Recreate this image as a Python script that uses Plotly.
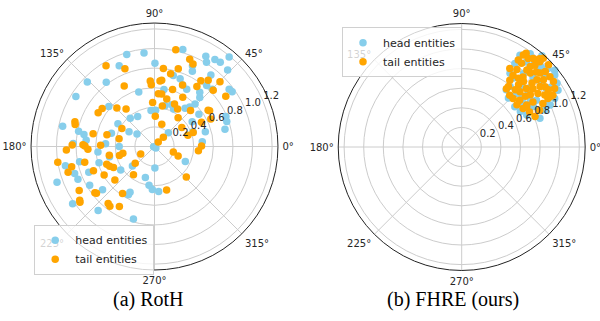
import plotly.graph_objects as go

# ---------------- data ----------------
series_names = ["head entities", "tail entities"]
captions = ["(a) RotH", "(b) FHRE (ours)"]
angle_ticks = [0, 45, 90, 135, 180, 225, 270, 315]
angle_labels = ["0°", "45°", "90°", "135°", "180°", "225°", "270°", "315°"]
radial_ticks = [0.2, 0.4, 0.6, 0.8, 1.0, 1.2]
radial_labels = ["0.2", "0.4", "0.6", "0.8", "1.0", "1.2"]
radial_label_angle = 22.5

roth_head_r = [0.01, 0.20, 0.42, 0.54, 0.79, 0.78, 0.74, 0.49, 0.37, 0.43, 0.46, 0.43, 0.50, 0.54, 0.60,
               0.59, 0.85, 0.75, 0.74, 0.69, 1.03, 0.91, 0.86, 1.06, 1.01, 1.08, 1.09, 1.19, 1.08, 0.93,
               0.83, 0.97, 0.68, 0.82, 0.72, 0.67, 0.96, 0.46, 0.56,
               0.98, 0.96, 0.90, 0.95, 0.82, 0.58, 0.95, 0.62, 0.37, 0.38, 0.35, 0.96, 0.44, 0.30, 0.22,
               0.79, 0.73, 0.70, 0.46, 0.50, 0.83, 0.36,
               0.77, 0.87, 0.53, 0.56, 0.69, 1.02, 1.06, 0.93, 0.86, 0.85, 0.78, 0.72, 0.77, 0.42, 0.47,
               0.58, 0.30, 0.44, 0.33, 0.59, 0.40,
               0.22, 0.35, 0.46, 0.02]
roth_head_theta = [200, 45, 20.9, 16.2, 22.7, 19, 13.7, 5.7, 88.2, 75.5, 67.5, 63.1, 51.4, 48.3, 46.4,
                   80.6, 89.7, 75.2, 69.3, 65.4, 73.7, 64.8, 63.3, 60.4, 58.3, 55.2, 52, 50.2, 46.3, 51.8,
                   44.7, 35.2, 47.2, 49.5, 50.1, 60.6, 37.5, 33.3, 36,
                   106.8, 96.4, 113.6, 136.2, 126.9, 106.1, 147.6, 138.8, 95.5, 130.7, 119.4, 167.5, 148, 150, 144.3,
                   168.6, 170.4, 174.8, 162.8, 176.7, 177.8, 180,
                   253.8, 228.6, 241.9, 241.6, 219.8, 215, 200.2, 192.2, 198.6, 203.2, 191.5, 201.3, 210.8, 214.8, 192.7,
                   185.6, 221.3, 267.1, 253.6, 196.3, 262,
                   271, 334, 275.3, 315]

roth_tail_r = [0.13, 0.06, 0.24, 0.34, 0.36, 0.54, 0.66, 0.48, 0.31, 0.42, 0.45, 0.38, 0.52, 0.58, 0.50,
               0.54, 0.54, 0.61, 0.67, 0.68, 0.80, 0.76, 0.83, 0.75, 1.01, 0.96, 0.93, 0.82, 0.87, 0.94,
               0.89, 0.67, 0.64, 0.42, 0.69, 0.83, 0.48,
               0.96, 0.85, 0.69, 0.67, 0.63, 0.45, 0.66, 0.55, 0.48, 0.67, 0.85, 0.84, 0.38, 0.64, 0.50,
               0.37, 0.55, 0.84, 0.73, 0.71,
               0.75, 0.76, 0.71, 0.58, 0.77, 0.76, 0.94, 0.95, 0.89, 1.00, 0.92, 0.87, 0.73, 0.67, 0.59,
               0.52, 0.50, 0.53, 0.37, 0.33, 0.26, 0.36, 0.16, 0.90, 0.47, 0.68, 0.47,
               0.20, 0.26, 0.45, 0.45, 0.46]
roth_tail_theta = [46, 50, 72, 35, 18.8, 27.4, 34, 0.5, 88.5, 79, 58.4, 50.7, 45, 60.2, 75.5,
                   85.8, 82.2, 72.4, 85.2, 83.8, 83.5, 77.5, 73, 54.8, 77.6, 68, 65, 54.8, 51, 44.7,
                   35.2, 32.9, 26.1, 20, 65.5, 43.8, 64.8,
                   121, 110.8, 116.6, 93.7, 93, 92.4, 144, 134.3, 127.2, 149.1, 162.8, 164.5, 151.2, 168.2, 166.1,
                   167.7, 178.8, 179, 178.5, 179.5,
                   230.9, 233.2, 239.7, 235.8, 217.8, 218.8, 215.7, 216.8, 210.3, 189.3, 196.6, 193.7, 192.7, 201.6, 209.4,
                   200.4, 203.7, 220.3, 194.5, 192, 220.8, 233.4, 208.5, 182.3, 207.2, 182.4, 191,
                   343.7, 338, 354.5, 316.2, 285.6]

fhre_head_r = [1.18, 1.24, 1.11, 1.19, 1.20, 1.17, 1.14, 1.07, 1.00, 0.93,
               0.85, 0.79, 0.74, 0.69, 0.68, 0.70, 0.74, 0.88, 1.02, 0.90,
               1.01, 0.84, 0.90, 1.04, 0.88, 1.02, 0.87, 1.10, 1.11, 1.09,
               1.12, 0.85, 0.78, 0.77, 1.23, 0.81, 0.95, 1.15, 0.98, 0.92,
               0.80, 1.05, 1.13]
fhre_head_theta = [53.7, 48.7, 57.6, 42.3, 37.7, 33.8, 30.5, 27.6, 25.4, 24,
                   20.1, 51.3, 52.1, 46.3, 37.1, 31.2, 26.2, 53.1, 31.5, 56.8,
                   57.5, 29.4, 32.1, 38.5, 39.7, 44.5, 45.1, 33.8, 40.2, 52.7,
                   45.8, 34.5, 44.3, 35.4, 39.5, 30.5, 27, 45, 50, 41,
                   40, 35, 49]

fhre_tail_r = [1.16, 1.13, 1.13, 1.16, 1.23, 1.18, 1.05, 1.12, 1.22, 1.08,
               0.97, 1.08, 1.15, 1.03, 0.90, 0.95, 1.15, 0.84, 1.03, 1.08,
               0.92, 1.15, 0.94, 0.89, 0.86, 0.78, 1.05, 1.12, 0.80, 0.82,
               0.95, 0.72, 1.07, 0.83, 0.72, 1.01, 0.76, 0.94, 0.79, 0.88,
               0.78, 0.81, 0.94, 0.75, 0.78, 1.04, 1.20, 0.97, 1.01, 0.91,
               1.03, 1.10, 0.86, 0.71, 0.74, 1.06, 1.17, 1.06, 0.88, 1.00]
fhre_tail_theta = [55.5, 56.2, 53.1, 51.1, 47.4, 47.5, 54.4, 48.2, 43.4, 49.6,
                   54.5, 45.2, 42.1, 47.2, 54.4, 48.8, 38.5, 54.2, 41.8, 39.4,
                   46.7, 35.5, 39.3, 42.1, 47.6, 52.3, 35.9, 32.2, 46.9, 43.5,
                   35, 47.1, 29.6, 38.5, 43.3, 29.4, 38.9, 28.2, 32.9, 25.3,
                   27.3, 22.5, 58.5, 52.5, 31.8, 29.7, 48.6, 42.3, 37.6, 50.5,
                   49.8, 43.3, 32.3, 37.4, 32.1, 33.4, 49.2, 57, 37.3, 32]

HEAD_COLOR = "#87CEEB"
TAIL_COLOR = "#FFA500"
FONT = "DejaVu Sans"
TXT = "#262626"

fig = go.Figure()

def add_labels(subplot):
    # radial tick labels, placed matplotlib-style at 22.5 degrees, drawn above the markers
    fig.add_trace(go.Scatterpolar(
        r=radial_ticks, theta=[radial_label_angle] * len(radial_ticks),
        mode="text", text=radial_labels, textposition="top right",
        textfont=dict(family=FONT, size=10, color=TXT),
        subplot=subplot, showlegend=False, hoverinfo="skip"))

def add(r, th, color, name, subplot, legend):
    fig.add_trace(go.Scatterpolar(
        r=r, theta=th, mode="markers", name=name,
        marker=dict(color=color, size=7.5, line=dict(width=0)),
        subplot=subplot, legend=legend, showlegend=True))

add(roth_head_r, roth_head_theta, HEAD_COLOR, series_names[0], "polar", "legend")
add(roth_tail_r, roth_tail_theta, TAIL_COLOR, series_names[1], "polar", "legend")
add(fhre_head_r, fhre_head_theta, HEAD_COLOR, series_names[0], "polar2", "legend2")
add(fhre_tail_r, fhre_tail_theta, TAIL_COLOR, series_names[1], "polar2", "legend2")
add_labels("polar")
add_labels("polar2")

def polar_layout(xd, yd):
    return dict(
        domain=dict(x=xd, y=yd),
        bgcolor="white",
        radialaxis=dict(range=[0, 1.26], tickvals=radial_ticks, showticklabels=False,
                        showline=False, ticks="", angle=radial_label_angle,
                        gridcolor="#cccccc", gridwidth=1),
        angularaxis=dict(rotation=0, direction="counterclockwise", tickvals=angle_ticks,
                         ticktext=angle_labels, showline=True, linecolor="#222222", linewidth=1,
                         gridcolor="#cccccc", gridwidth=1, ticks="outside", ticklen=2,
                         tickcolor="rgba(0,0,0,0)",
                         tickfont=dict(family=FONT, size=10, color=TXT)),
    )

legend_style = dict(xanchor="left", yanchor="top", bgcolor="rgba(255,255,255,0.8)",
                    bordercolor="#d0d0d0", borderwidth=1, itemwidth=30, tracegroupgap=0,
                    font=dict(family=FONT, size=11, color=TXT))

fig.update_layout(
    width=600, height=321,
    margin=dict(l=0, r=0, t=0, b=0),
    paper_bgcolor="white",
    polar=polar_layout([0.0517, 0.4633], [0.1589, 0.9283]),
    polar2=polar_layout([0.5637, 0.9753], [0.1573, 0.9268]),
    legend=dict(x=0.057, y=0.30, **legend_style),
    legend2=dict(x=0.570, y=0.915, **legend_style),
    annotations=[
        dict(text=captions[0], x=0.248, y=0.066, xref="paper", yref="paper", showarrow=False,
             xanchor="center", yanchor="middle",
             font=dict(family="Liberation Serif", size=20, color="black")),
        dict(text=captions[1], x=0.755, y=0.066, xref="paper", yref="paper", showarrow=False,
             xanchor="center", yanchor="middle",
             font=dict(family="Liberation Serif", size=20, color="black")),
    ],
)

fig.write_html("out.html", config={"displayModeBar": False},
               post_script="document.body.style.margin='0px';")
